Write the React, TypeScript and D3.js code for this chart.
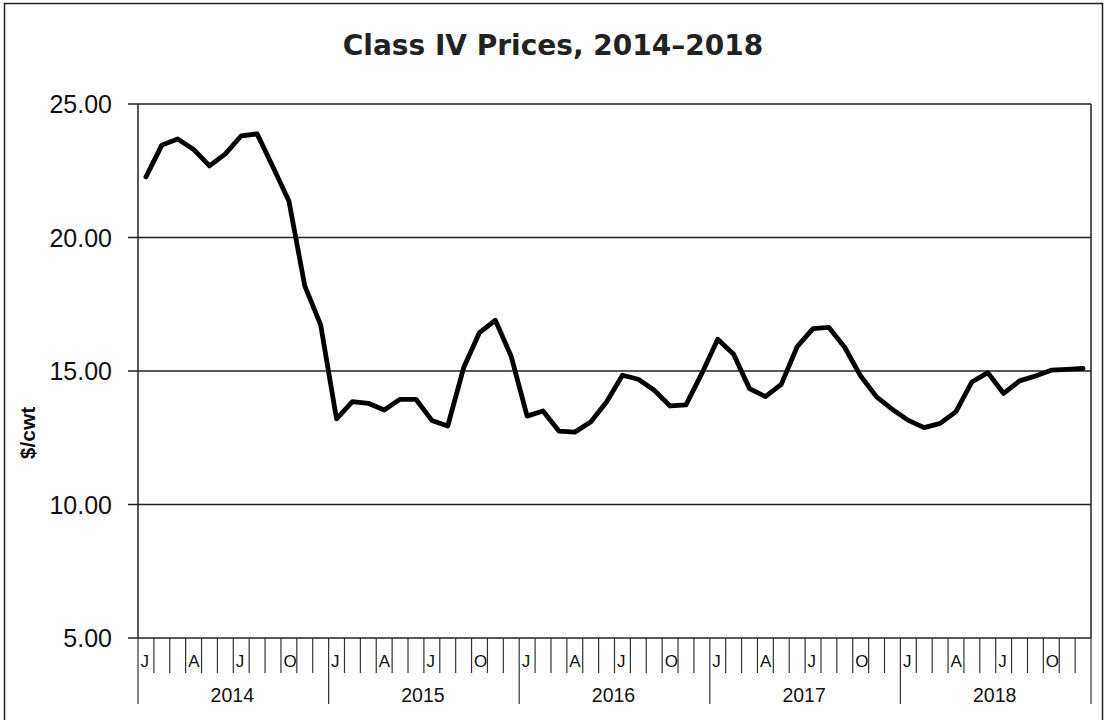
import React from "react";
import * as d3 from "d3";

// Class IV price, $/cwt, Jan 2014 .. Dec 2018
const years = ["2014", "2015", "2016", "2017", "2018"];
const monthLetters = ["J", "", "", "A", "", "", "J", "", "", "O", "", ""];
const prices2014 = [22.27, 23.46, 23.69, 23.3, 22.68, 23.13, 23.81, 23.88, 22.64, 21.37, 18.19, 16.73];
const prices2015 = [13.21, 13.85, 13.79, 13.54, 13.94, 13.94, 13.15, 12.94, 15.12, 16.44, 16.9, 15.54];
const prices2016 = [13.31, 13.5, 12.75, 12.71, 13.09, 13.84, 14.84, 14.69, 14.28, 13.69, 13.73, 14.91];
const prices2017 = [16.19, 15.63, 14.34, 14.04, 14.5, 15.91, 16.59, 16.63, 15.88, 14.81, 14.03, 13.56];
const prices2018 = [13.15, 12.88, 13.04, 13.48, 14.59, 14.94, 14.16, 14.63, 14.81, 15.03, 15.06, 15.1];
const yTicks = [5, 10, 15, 20, 25];

const prices = [...prices2014, ...prices2015, ...prices2016, ...prices2017, ...prices2018];

const W = 1107;
const H = 720;
const left = 138;
const right = 1091;
const top = 104;
const bottom = 638;

export default function App() {
  const x = d3
    .scaleBand<number>()
    .domain(d3.range(prices.length))
    .range([left, right]);
  const y = d3.scaleLinear().domain([5, 25]).range([bottom, top]);

  const line = d3
    .line<number>()
    .x((_, i) => (x(i) as number) + x.bandwidth() / 2)
    .y((d) => y(d));

  const bounds = d3.range(prices.length + 1).map((i) => left + i * x.bandwidth());

  return (
    <svg width={W} height={H} style={{ position: "absolute", left: 0, top: 0, background: "#fff" }}>
      <rect x={4.5} y={3.5} width={1098} height={H + 10} fill="#fff" stroke="#222" strokeWidth={1.5} />
      <text
        x={553}
        y={55}
        textAnchor="middle"
        fontFamily="DejaVu Sans"
        fontWeight="bold"
        fontSize={28}
        fill="#222"
      >
        Class IV Prices, 2014–2018
      </text>

      {/* gridlines + y ticks */}
      {yTicks.map((t) => (
        <g key={t}>
          <line x1={left - 10} x2={right} y1={y(t)} y2={y(t)} stroke="#222" strokeWidth={1.3} />
          <text
            x={112}
            y={y(t)}
            dy="0.36em"
            textAnchor="end"
            fontFamily="Liberation Sans, Arial"
            fontSize={25}
            fill="#111"
          >
            {t.toFixed(2)}
          </text>
        </g>
      ))}
      <text
        transform="translate(35,433) rotate(-90)"
        textAnchor="middle"
        fontFamily="Liberation Sans, Arial"
        fontWeight="bold"
        fontSize={21}
        fill="#111"
      >
        $/cwt
      </text>

      {/* plot frame */}
      <line x1={left} x2={left} y1={top} y2={bottom} stroke="#222" strokeWidth={1.5} />
      <line x1={right} x2={right} y1={top} y2={bottom} stroke="#222" strokeWidth={1.5} />

      {/* month / year category axis */}
      {bounds.map((bx, i) => (
        <line
          key={i}
          x1={bx}
          x2={bx}
          y1={bottom}
          y2={i % 12 === 0 ? 704 : 673}
          stroke="#333"
          strokeWidth={1.2}
        />
      ))}
      {prices.map((_, i) =>
        monthLetters[i % 12] ? (
          <text
            key={i}
            x={(x(i) as number) + 2.5}
            y={667}
            fontFamily="Liberation Sans, Arial"
            fontSize={17}
            fill="#111"
          >
            {monthLetters[i % 12]}
          </text>
        ) : null
      )}
      {years.map((yr, k) => (
        <text
          key={yr}
          x={left + (k * 12 + 6) * x.bandwidth() - 1}
          y={702}
          textAnchor="middle"
          fontFamily="Liberation Sans, Arial"
          fontSize={19.5}
          fill="#111"
        >
          {yr}
        </text>
      ))}

      <path
        d={line(prices) ?? ""}
        fill="none"
        stroke="#000"
        strokeWidth={4.8}
        strokeLinejoin="round"
        strokeLinecap="round"
      />
    </svg>
  );
}
